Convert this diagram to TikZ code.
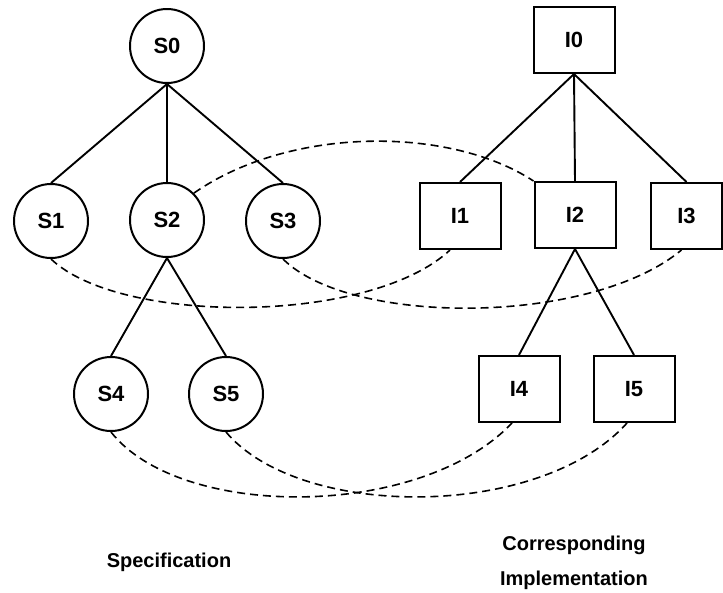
\documentclass[tikz,border=0pt]{standalone}
\usepackage{fontspec}
\setmainfont{Liberation Sans}
\begin{document}
\begin{tikzpicture}[x=1pt,y=-1pt,
  captiontext/.style={font=\bfseries\fontsize{20}{35}\selectfont},
  nodetext/.style={font=\bfseries\fontsize{22}{26}\selectfont},
  spec/.style={circle,draw,line width=2pt,minimum size=74pt,inner sep=0pt,nodetext},
  impl/.style={rectangle,draw,line width=2pt,minimum width=81pt,minimum height=66pt,inner sep=0pt,nodetext},
  tree/.style={line width=1.9pt},
  corr/.style={line width=1.6pt,dash pattern=on 8pt off 5pt},
  caption/.style={captiontext,align=center}]
\useasboundingbox (0,0) rectangle (723,592);

% specification tree
\node[spec] (S0) at (167,46) {S0};
\node[spec] (S1) at (51,221) {S1};
\node[spec] (S2) at (167,220) {S2};
\node[spec] (S3) at (283,221) {S3};
\node[spec] (S4) at (111,394) {S4};
\node[spec] (S5) at (226,394) {S5};

% implementation tree
\node[impl] (I0) at (574,40) {I0};
\node[impl] (I1) at (460,216) {I1};
\node[impl] (I2) at (575,215) {I2};
\node[impl,minimum width=71pt] (I3) at (686.5,216) {I3};
\node[impl] (I4) at (519,389) {I4};
\node[impl] (I5) at (634,389) {I5};

% tree edges
\foreach \c in {S1,S2,S3} \draw[tree] (S0.south) -- (\c.north);
\foreach \c in {S4,S5} \draw[tree] (S2.south) -- (\c.north);
\foreach \c in {I1,I2,I3} \draw[tree] (I0.south) -- (\c.north);
\foreach \c in {I4,I5} \draw[tree] (I2.south) -- (\c.north);

% correspondences
\draw[corr] (S2.45) .. controls (290,126) and (450,126) .. (I2.north west);
\draw[corr] (S1.south) .. controls (120,325) and (370,325) .. ([xshift=-10pt]I1.south);
\draw[corr] (S3.south) .. controls (350,326) and (590,326) .. ([xshift=-5pt]I3.south);
\draw[corr] (S4.south) .. controls (180,520) and (420,520) .. ([xshift=-7pt]I4.south);
\draw[corr] (S5.south) .. controls (300,520) and (540,520) .. ([xshift=-7pt]I5.south);

% captions
\node[caption] (spec) at (169,562) {Specification};
\node[caption] (impl) at (574,563) {Corresponding\\Implementation};
\end{tikzpicture}
\end{document}
